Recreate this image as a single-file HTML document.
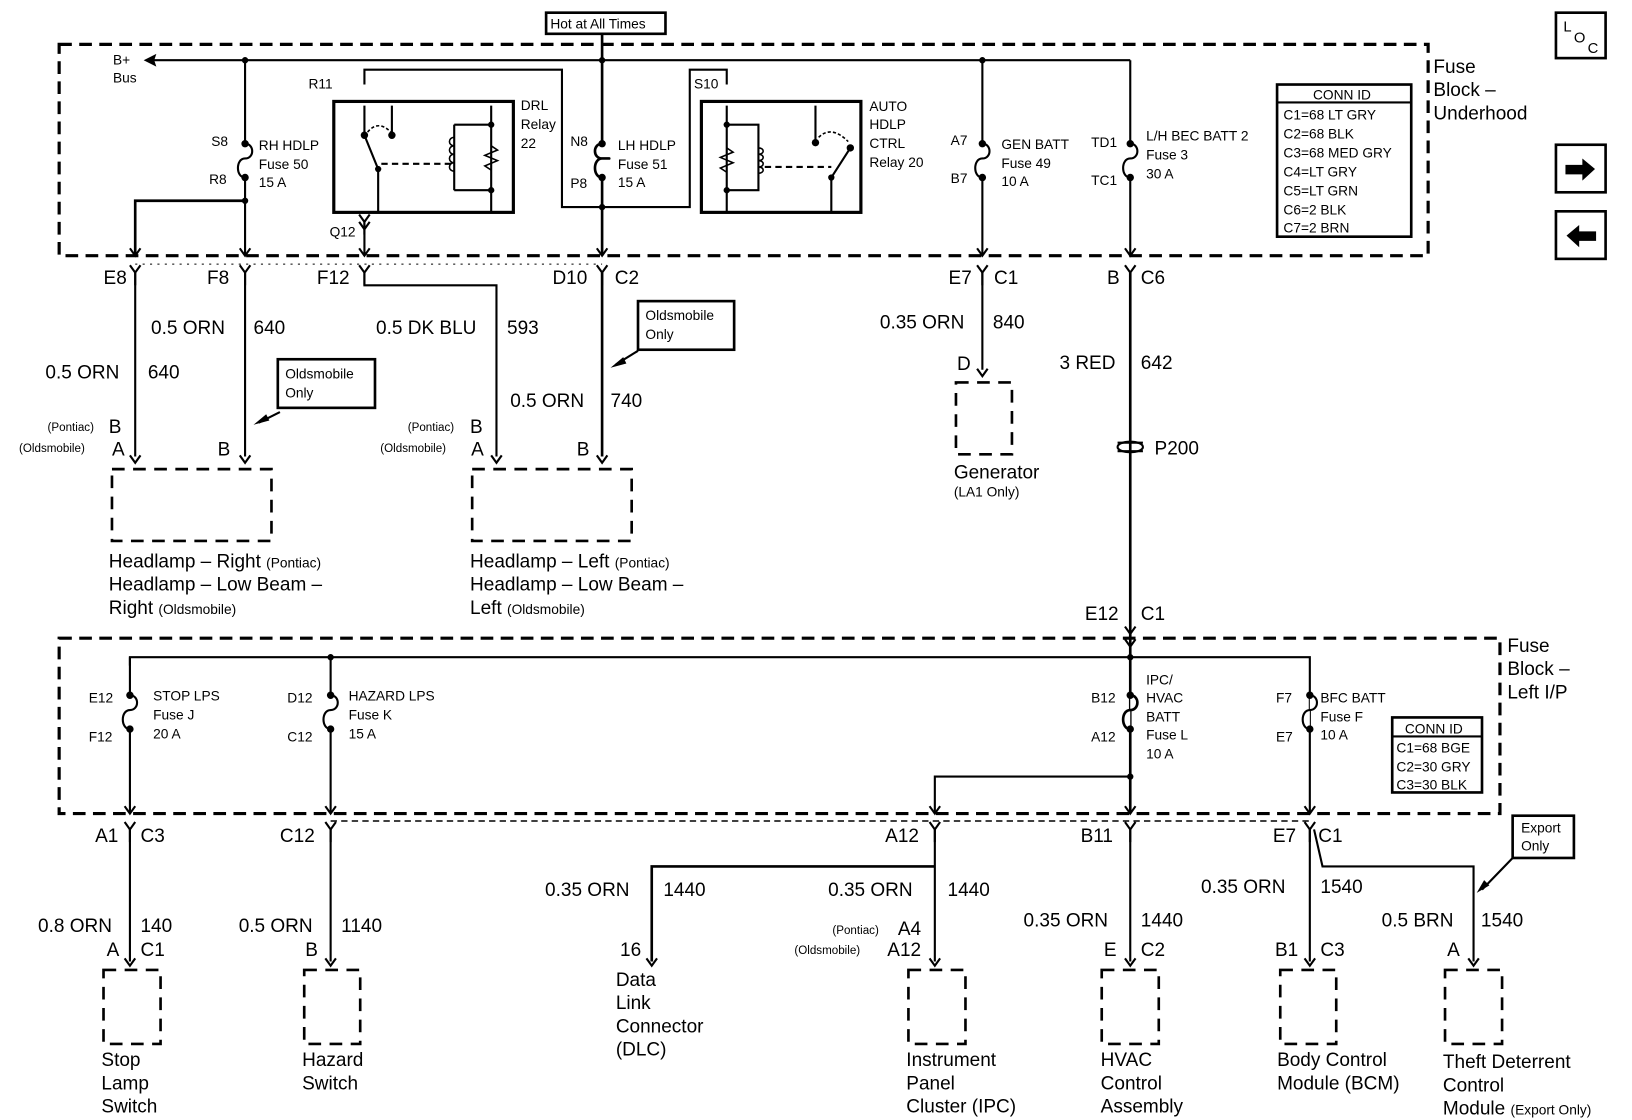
<!DOCTYPE html>
<html><head><meta charset="utf-8"><style>
html,body{margin:0;padding:0;background:#fff;}
svg{display:block;}
text{font-family:"Liberation Sans",sans-serif;fill:#000;}
.l{font-size:18px;}
.s{font-size:13px;}
.xs{font-size:11px;}
.m{font-size:14px;}
</style></head><body>
<svg width="1632" height="1120" viewBox="0 0 1545 1060" preserveAspectRatio="none" xmlns="http://www.w3.org/2000/svg">
<defs>
<polyline id="ch" points="-5,-7 0,0 5,-7" fill="none" stroke="#000" stroke-width="2"/>
<g id="fk"><polyline points="-5,-7 0,0 5,-7" fill="none" stroke="#000" stroke-width="2"/><line x1="0" y1="0" x2="0" y2="12" stroke="#000" stroke-width="2"/></g>
</defs>
<g stroke="#000" fill="none">
<rect x="56" y="42" width="1296" height="200" stroke-width="3" stroke-dasharray="12,7"/>
<rect x="56" y="604" width="1364" height="166" stroke-width="3" stroke-dasharray="12,7"/>
<line x1="313" y1="777" x2="1240" y2="777" stroke-width="1.5" stroke-dasharray="6,4"/>
<line x1="128" y1="250" x2="570" y2="250" stroke-width="1" stroke-dasharray="2,5"/>
<rect x="517" y="12" width="113" height="20" stroke-width="2.5"/>
<line x1="140" y1="57" x2="1070" y2="57" stroke-width="2"/>
<line x1="570" y1="32" x2="570" y2="57" stroke-width="2.5"/>
<path d="M232 57 V136 c9 0 9 14 0 14 c-9 0 -9 18 0 18 V242" stroke-width="2"/>
<path d="M232 190 H128 V242" stroke-width="2.5"/>
<path d="M345 80 V66 H532 V196 H653 V66 H688 V80" stroke-width="2"/>
<rect x="316" y="96" width="170" height="105" stroke-width="3"/>
<path d="M345 100 V128 M371 100 V128 M345 128 L358 160 V200 M465 100 V200 M430 118 H465 M430 180 H465 M430 118 V180" stroke-width="2"/>
<path d="M361 155 H430" stroke-width="2" stroke-dasharray="6,4"/>
<path d="M348 125 q10 -12 22 0" stroke-width="1.5" stroke-dasharray="3,2"/>
<path d="M430 130 c-6 0 -6 8 0 8 c-6 0 -6 8 0 8 c-6 0 -6 8 0 8 c-6 0 -6 8 0 8" stroke-width="1.5"/>
<path d="M465 138 l6 4 l-12 5 l12 5 l-12 5 l6 4" stroke-width="1.5"/>
<line x1="345" y1="210" x2="345" y2="242" stroke-width="2"/>
<path d="M570 57 V136 c-9 0 -9 14 0 14 c9 0 9 0 0 0 c-9 0 -9 18 0 18 V242" stroke-width="2.5"/>
<rect x="664" y="96" width="151" height="105" stroke-width="3"/>
<path d="M688 100 V200 M688 118 H718 V180 H688 M772 100 V135 M805 140 L787 168 V200" stroke-width="2"/>
<path d="M724 158 H787" stroke-width="2" stroke-dasharray="6,4"/>
<path d="M775 130 q12 -12 28 4" stroke-width="1.5" stroke-dasharray="3,2"/>
<path d="M718 140 c6 0 6 6 0 6 c6 0 6 6 0 6 c6 0 6 6 0 6 c6 0 6 6 0 6" stroke-width="1.5"/>
<path d="M688 140 l6 4 l-12 5 l12 5 l-12 5 l6 4" stroke-width="1.5"/>
<path d="M930 57 V136 c9 0 9 14 0 14 c-9 0 -9 18 0 18 V242" stroke-width="2"/>
<path d="M1070 57 V136 c9 0 9 14 0 14 c-9 0 -9 18 0 18 V242" stroke-width="2"/>
<rect x="1209" y="80" width="127" height="144" stroke-width="2.5"/>
<line x1="1209" y1="97" x2="1336" y2="97" stroke-width="2"/>
<rect x="1473" y="12" width="47" height="43" stroke-width="2.5"/>
<rect x="1473" y="137" width="47" height="45" stroke-width="2.5"/>
<rect x="1473" y="200" width="47" height="45" stroke-width="2.5"/>
<line x1="128" y1="258" x2="128" y2="432" stroke-width="2"/>
<line x1="232" y1="258" x2="232" y2="432" stroke-width="2"/>
<path d="M345 258 V270 H470 V432" stroke-width="2"/>
<line x1="570" y1="258" x2="570" y2="432" stroke-width="2.5"/>
<line x1="930" y1="258" x2="930" y2="350" stroke-width="2"/>
<line x1="1070" y1="258" x2="1070" y2="600" stroke-width="2.5"/>
<rect x="263" y="340" width="92" height="46" stroke-width="2.5"/>
<rect x="604" y="285" width="91" height="46" stroke-width="2.5"/>
<line x1="265" y1="390" x2="245" y2="400" stroke-width="2"/>
<line x1="604" y1="332" x2="583" y2="345" stroke-width="2"/>
<line x1="1432" y1="812" x2="1403" y2="842" stroke-width="2"/>
<rect x="106" y="444" width="151" height="68" stroke-width="2.5" stroke-dasharray="12,8"/>
<rect x="447" y="444" width="151" height="68" stroke-width="2.5" stroke-dasharray="12,8"/>
<rect x="905" y="362" width="53" height="68" stroke-width="2.5" stroke-dasharray="12,8"/>
<path d="M1058 419 h24 M1058 427 h24" stroke-width="2"/>
<ellipse cx="1070" cy="423" rx="12" ry="5" stroke-width="2"/>
<path d="M123 630 V622 H1240 V770" stroke-width="2"/>
<line x1="1070" y1="600" x2="1070" y2="770" stroke-width="2.5"/>
<path d="M123 622 V658 c9 0 9 14 0 14 c-9 0 -9 18 0 18 V770" stroke-width="2"/>
<path d="M313 622 V658 c9 0 9 14 0 14 c-9 0 -9 18 0 18 V770" stroke-width="2"/>
<path d="M1070 658 c9 0 9 14 0 14 c-9 0 -9 18 0 18" stroke-width="2.5" fill="#fff"/>
<path d="M1240 658 c9 0 9 14 0 14 c-9 0 -9 18 0 18" stroke-width="2" fill="#fff"/>
<path d="M1070 735 H885 V770" stroke-width="2"/>
<rect x="1318" y="679" width="85" height="71" stroke-width="2.5"/>
<line x1="1318" y1="697" x2="1403" y2="697" stroke-width="2"/>
<line x1="123" y1="785" x2="123" y2="910" stroke-width="2"/>
<line x1="313" y1="785" x2="313" y2="910" stroke-width="2"/>
<line x1="885" y1="785" x2="885" y2="910" stroke-width="2"/>
<path d="M885 820 H617 V910" stroke-width="2.5"/>
<line x1="1070" y1="785" x2="1070" y2="910" stroke-width="2"/>
<line x1="1240" y1="785" x2="1240" y2="910" stroke-width="2"/>
<path d="M1244 785 L1252 820 H1395 V910" stroke-width="2"/>
<rect x="98" y="918" width="54" height="70" stroke-width="2.5" stroke-dasharray="12,8"/>
<rect x="288" y="918" width="53" height="70" stroke-width="2.5" stroke-dasharray="12,8"/>
<rect x="860" y="918" width="54" height="70" stroke-width="2.5" stroke-dasharray="12,8"/>
<rect x="1043" y="918" width="54" height="70" stroke-width="2.5" stroke-dasharray="12,8"/>
<rect x="1212" y="918" width="53" height="70" stroke-width="2.5" stroke-dasharray="12,8"/>
<rect x="1368" y="918" width="54" height="70" stroke-width="2.5" stroke-dasharray="12,8"/>
<rect x="1432" y="772" width="58" height="40" stroke-width="2.5"/>
</g>
<g fill="#000">
<polygon points="136,57 148,51 146,57 148,63"/>
<polygon points="1510,160 1498,150 1498,156 1482,156 1482,165 1498,165 1498,171"/>
<polygon points="1483,223 1495,213 1495,219 1511,219 1511,228 1495,228 1495,234"/>
<polygon points="240,402 252,392 255,398"/>
<polygon points="578,348 590,338 593,344"/>
<polygon points="1398,845 1405,833 1410,838"/>
<circle cx="232" cy="57" r="3"/><circle cx="570" cy="57" r="3"/><circle cx="930" cy="57" r="3"/>
<circle cx="232" cy="136" r="3.5"/><circle cx="232" cy="168" r="3.5"/><circle cx="232" cy="190" r="3"/>
<circle cx="570" cy="136" r="3.5"/><circle cx="570" cy="168" r="3.5"/><circle cx="570" cy="196" r="3"/>
<circle cx="930" cy="136" r="3.5"/><circle cx="930" cy="168" r="3.5"/>
<circle cx="1070" cy="136" r="3.5"/><circle cx="1070" cy="168" r="3.5"/>
<circle cx="345" cy="128" r="3.5"/><circle cx="371" cy="128" r="3.5"/><circle cx="358" cy="160" r="3"/>
<circle cx="465" cy="118" r="3"/><circle cx="465" cy="180" r="3"/>
<circle cx="688" cy="118" r="3"/><circle cx="688" cy="180" r="3"/><circle cx="772" cy="135" r="3.5"/><circle cx="805" cy="140" r="3.5"/><circle cx="787" cy="168" r="3"/>
<circle cx="313" cy="622" r="3"/><circle cx="1070" cy="622" r="3"/><circle cx="1070" cy="735" r="3"/>
<circle cx="123" cy="658" r="3.5"/><circle cx="123" cy="690" r="3.5"/>
<circle cx="313" cy="658" r="3.5"/><circle cx="313" cy="690" r="3.5"/>
<circle cx="1070" cy="658" r="3.5"/><circle cx="1070" cy="690" r="3.5"/>
<circle cx="1240" cy="658" r="3.5"/><circle cx="1240" cy="690" r="3.5"/>
</g>
<use href="#ch" x="128" y="242"/><use href="#ch" x="232" y="242"/><use href="#ch" x="345" y="242"/><use href="#ch" x="570" y="242"/><use href="#ch" x="930" y="242"/><use href="#ch" x="1070" y="242"/>
<use href="#fk" x="128" y="258"/><use href="#fk" x="232" y="258"/><use href="#fk" x="345" y="258"/><use href="#fk" x="570" y="258"/><use href="#fk" x="930" y="258"/><use href="#fk" x="1070" y="258"/>
<use href="#ch" x="345" y="217"/><use href="#fk" x="345" y="210"/>
<use href="#ch" x="128" y="438"/><use href="#ch" x="232" y="438"/><use href="#ch" x="470" y="438"/><use href="#ch" x="570" y="438"/><use href="#ch" x="930" y="356"/>
<use href="#ch" x="1070" y="600"/><use href="#ch" x="1070" y="612"/>
<use href="#ch" x="123" y="770"/><use href="#ch" x="313" y="770"/><use href="#ch" x="885" y="770"/><use href="#ch" x="1070" y="770"/><use href="#ch" x="1240" y="770"/>
<use href="#fk" x="123" y="785"/><use href="#fk" x="313" y="785"/><use href="#fk" x="885" y="785"/><use href="#fk" x="1070" y="785"/><use href="#fk" x="1240" y="785"/>
<use href="#ch" x="123" y="914"/><use href="#ch" x="313" y="914"/><use href="#ch" x="617" y="914"/><use href="#ch" x="885" y="914"/><use href="#ch" x="1070" y="914"/><use href="#ch" x="1240" y="914"/><use href="#ch" x="1395" y="914"/>
<text class="s" x="521" y="27">Hot at All Times</text>
<text class="s" x="107" y="61">B+</text><text class="s" x="107" y="78">Bus</text>
<text class="s" x="292" y="84">R11</text>
<text class="s" x="200" y="138">S8</text><text class="s" x="198" y="174">R8</text>
<text class="s" x="245" y="142">RH HDLP</text><text class="s" x="245" y="160">Fuse 50</text><text class="s" x="245" y="177">15 A</text>
<text class="s" x="493" y="104">DRL</text><text class="s" x="493" y="122">Relay</text><text class="s" x="493" y="140">22</text>
<text class="s" x="312" y="224">Q12</text>
<text class="s" x="540" y="138">N8</text><text class="s" x="540" y="178">P8</text>
<text class="s" x="585" y="142">LH HDLP</text><text class="s" x="585" y="160">Fuse 51</text><text class="s" x="585" y="177">15 A</text>
<text class="s" x="657" y="84">S10</text>
<text class="s" x="823" y="105">AUTO</text><text class="s" x="823" y="122">HDLP</text><text class="s" x="823" y="140">CTRL</text><text class="s" x="823" y="158">Relay 20</text>
<text class="s" x="900" y="137">A7</text><text class="s" x="900" y="173">B7</text>
<text class="s" x="948" y="141">GEN BATT</text><text class="s" x="948" y="159">Fuse 49</text><text class="s" x="948" y="176">10 A</text>
<text class="s" x="1033" y="139">TD1</text><text class="s" x="1033" y="175">TC1</text>
<text class="s" x="1085" y="133">L/H BEC BATT 2</text><text class="s" x="1085" y="151">Fuse 3</text><text class="s" x="1085" y="169">30 A</text>
<text class="s" x="1243" y="94">CONN ID</text>
<text class="s" x="1215" y="113">C1=68 LT GRY</text><text class="s" x="1215" y="131">C2=68 BLK</text><text class="s" x="1215" y="149">C3=68 MED GRY</text><text class="s" x="1215" y="167">C4=LT GRY</text><text class="s" x="1215" y="185">C5=LT GRN</text><text class="s" x="1215" y="203">C6=2 BLK</text><text class="s" x="1215" y="220">C7=2 BRN</text>
<text class="l" x="1357" y="69">Fuse</text><text class="l" x="1357" y="91">Block –</text><text class="l" x="1357" y="113">Underhood</text>
<text class="m" x="1480" y="30">L</text><text class="m" x="1490" y="40">O</text><text class="m" x="1503" y="50">C</text>
<text class="l" x="98" y="269">E8</text><text class="l" x="196" y="269">F8</text><text class="l" x="300" y="269">F12</text><text class="l" x="523" y="269">D10</text><text class="l" x="582" y="269">C2</text>
<text class="l" x="898" y="269">E7</text><text class="l" x="941" y="269">C1</text><text class="l" x="1048" y="269">B</text><text class="l" x="1080" y="269">C6</text>
<text class="l" x="143" y="316">0.5 ORN</text><text class="l" x="240" y="316">640</text>
<text class="l" x="43" y="358">0.5 ORN</text><text class="l" x="140" y="358">640</text>
<text class="l" x="356" y="316">0.5 DK BLU</text><text class="l" x="480" y="316">593</text>
<text class="l" x="483" y="385">0.5 ORN</text><text class="l" x="578" y="385">740</text>
<text class="l" x="833" y="311">0.35 ORN</text><text class="l" x="940" y="311">840</text>
<text class="l" x="1003" y="349">3 RED</text><text class="l" x="1080" y="349">642</text>
<text class="l" x="1093" y="430">P200</text>
<text class="s" x="270" y="358">Oldsmobile</text><text class="s" x="270" y="376">Only</text>
<text class="s" x="611" y="303">Oldsmobile</text><text class="s" x="611" y="321">Only</text>
<text class="xs" x="45" y="408">(Pontiac)</text><text class="l" x="103" y="410">B</text>
<text class="xs" x="18" y="428">(Oldsmobile)</text><text class="l" x="106" y="431">A</text>
<text class="l" x="206" y="431">B</text>
<text class="xs" x="386" y="408">(Pontiac)</text><text class="l" x="445" y="410">B</text>
<text class="xs" x="360" y="428">(Oldsmobile)</text><text class="l" x="446" y="431">A</text>
<text class="l" x="546" y="431">B</text>
<text class="l" x="906" y="350">D</text>
<text class="l" x="903" y="453">Generator</text><text class="s" x="903" y="470">(LA1 Only)</text>
<text class="l" x="103" y="537">Headlamp – Right <tspan class="s">(Pontiac)</tspan></text>
<text class="l" x="103" y="559">Headlamp – Low Beam –</text>
<text class="l" x="103" y="581">Right <tspan class="s">(Oldsmobile)</tspan></text>
<text class="l" x="445" y="537">Headlamp – Left <tspan class="s">(Pontiac)</tspan></text>
<text class="l" x="445" y="559">Headlamp – Low Beam –</text>
<text class="l" x="445" y="581">Left <tspan class="s">(Oldsmobile)</tspan></text>
<text class="l" x="1027" y="587">E12</text><text class="l" x="1080" y="587">C1</text>
<text class="l" x="1427" y="617">Fuse</text><text class="l" x="1427" y="639">Block –</text><text class="l" x="1427" y="661">Left I/P</text>
<text class="s" x="84" y="665">E12</text><text class="s" x="84" y="702">F12</text>
<text class="s" x="145" y="663">STOP LPS</text><text class="s" x="145" y="681">Fuse J</text><text class="s" x="145" y="699">20 A</text>
<text class="s" x="272" y="665">D12</text><text class="s" x="272" y="702">C12</text>
<text class="s" x="330" y="663">HAZARD LPS</text><text class="s" x="330" y="681">Fuse K</text><text class="s" x="330" y="699">15 A</text>
<text class="s" x="1033" y="665">B12</text><text class="s" x="1033" y="702">A12</text>
<text class="s" x="1085" y="648">IPC/</text><text class="s" x="1085" y="665">HVAC</text><text class="s" x="1085" y="683">BATT</text><text class="s" x="1085" y="700">Fuse L</text><text class="s" x="1085" y="718">10 A</text>
<text class="s" x="1208" y="665">F7</text><text class="s" x="1208" y="702">E7</text>
<text class="s" x="1250" y="665">BFC BATT</text><text class="s" x="1250" y="683">Fuse F</text><text class="s" x="1250" y="700">10 A</text>
<text class="s" x="1330" y="694">CONN ID</text>
<text class="s" x="1322" y="712">C1=68 BGE</text><text class="s" x="1322" y="730">C2=30 GRY</text><text class="s" x="1322" y="747">C3=30 BLK</text>
<text class="l" x="90" y="797">A1</text><text class="l" x="133" y="797">C3</text>
<text class="l" x="265" y="797">C12</text><text class="l" x="838" y="797">A12</text><text class="l" x="1023" y="797">B11</text>
<text class="l" x="1205" y="797">E7</text><text class="l" x="1248" y="797">C1</text>
<text class="s" x="1440" y="788">Export</text><text class="s" x="1440" y="805">Only</text>
<text class="l" x="516" y="848">0.35 ORN</text><text class="l" x="628" y="848">1440</text>
<text class="l" x="784" y="848">0.35 ORN</text><text class="l" x="897" y="848">1440</text>
<text class="l" x="969" y="877">0.35 ORN</text><text class="l" x="1080" y="877">1440</text>
<text class="l" x="1137" y="845">0.35 ORN</text><text class="l" x="1250" y="845">1540</text>
<text class="l" x="1308" y="877">0.5 BRN</text><text class="l" x="1402" y="877">1540</text>
<text class="l" x="36" y="882">0.8 ORN</text><text class="l" x="133" y="882">140</text>
<text class="l" x="226" y="882">0.5 ORN</text><text class="l" x="323" y="882">1140</text>
<text class="l" x="101" y="905">A</text><text class="l" x="133" y="905">C1</text>
<text class="l" x="289" y="905">B</text>
<text class="l" x="587" y="905">16</text>
<text class="xs" x="788" y="884">(Pontiac)</text><text class="l" x="850" y="885">A4</text>
<text class="xs" x="752" y="903">(Oldsmobile)</text><text class="l" x="840" y="905">A12</text>
<text class="l" x="1045" y="905">E</text><text class="l" x="1080" y="905">C2</text>
<text class="l" x="1207" y="905">B1</text><text class="l" x="1250" y="905">C3</text>
<text class="l" x="1370" y="905">A</text>
<text class="l" x="96" y="1009">Stop</text><text class="l" x="96" y="1031">Lamp</text><text class="l" x="96" y="1053">Switch</text>
<text class="l" x="286" y="1009">Hazard</text><text class="l" x="286" y="1031">Switch</text>
<text class="l" x="583" y="933">Data</text><text class="l" x="583" y="955">Link</text><text class="l" x="583" y="977">Connector</text><text class="l" x="583" y="999">(DLC)</text>
<text class="l" x="858" y="1009">Instrument</text><text class="l" x="858" y="1031">Panel</text><text class="l" x="858" y="1053">Cluster (IPC)</text>
<text class="l" x="1042" y="1009">HVAC</text><text class="l" x="1042" y="1031">Control</text><text class="l" x="1042" y="1053">Assembly</text>
<text class="l" x="1209" y="1009">Body Control</text><text class="l" x="1209" y="1031">Module (BCM)</text>
<text class="l" x="1366" y="1011">Theft Deterrent</text><text class="l" x="1366" y="1033">Control</text><text class="l" x="1366" y="1055">Module <tspan class="s">(Export Only)</tspan></text>
</svg>
</body></html>
